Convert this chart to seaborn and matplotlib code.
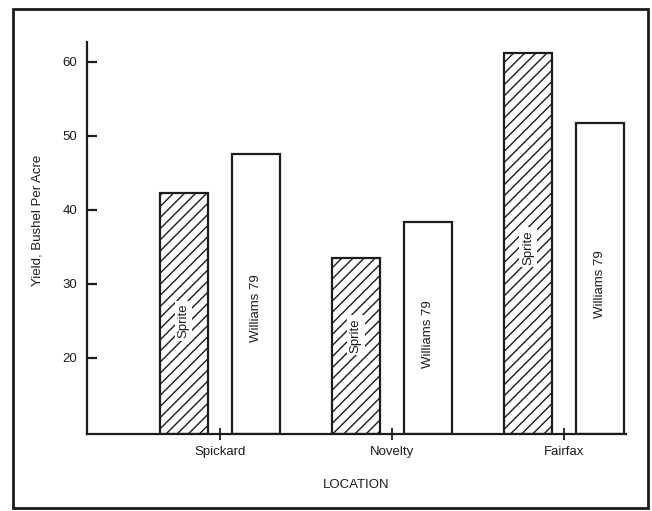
import matplotlib
matplotlib.use("Agg")
import matplotlib.pyplot as plt
import seaborn as sns
import pandas as pd
from matplotlib.patches import Rectangle

locations = ["Spickard", "Novelty", "Fairfax"]
varieties = ["Sprite", "Williams 79"]
sprite_yield = [42.3, 33.5, 61.2]
williams_yield = [47.6, 38.4, 51.8]
y_ticks = [20, 30, 40, 50, 60]
y_label = "Yield, Bushel Per Acre"
x_label = "LOCATION"

df = pd.DataFrame({
    "Location": locations * 2,
    "Variety": [varieties[0]] * 3 + [varieties[1]] * 3,
    "Yield": sprite_yield + williams_yield,
})

sns.set_theme(style="white")
plt.rcParams["font.family"] = ["Liberation Sans", "DejaVu Sans"]
plt.rcParams["hatch.linewidth"] = 1.0
plt.rcParams["hatch.color"] = "#1a1a1a"

INK = "#1c1c1c"
fig = plt.figure(figsize=(6.52, 5.11), dpi=100)
fig.patch.set_facecolor("white")
ax = fig.add_axes([87 / 652, 1 - 434 / 511, (626 - 87) / 652, (434 - 42) / 511])

ymin, ymax = 9.7, 62.7
sns.barplot(data=df, x="Location", y="Yield", hue="Variety", order=locations,
            hue_order=varieties, palette=["white", "white"], width=0.84, gap=0.33,
            edgecolor=INK, linewidth=1.6, legend=False, ax=ax)

bars = ax.patches[:len(locations) * 2]
# hatch Sprite bars and re-base bars at the axis baseline
for i, p in enumerate(bars):
    h = p.get_height()
    p.set_y(ymin)
    p.set_height(h - ymin)
    if i < len(locations):
        p.set_hatch("///")

# labels inside bars (relative vertical placement within each bar)
label_frac = [0.47, 0.56, 0.49, 0.45, 0.47, 0.48]
for i, p in enumerate(bars):
    name = varieties[0] if i < len(locations) else varieties[1]
    cx = p.get_x() + p.get_width() / 2
    cy = p.get_y() + p.get_height() * label_frac[i]
    ax.text(cx, cy, name, rotation=90, ha="center", va="center", fontsize=9.5,
            color=INK, bbox=dict(boxstyle="square,pad=0.2", fc="white", ec="none"),
            zorder=5)

ax.set_xlim(-0.773, 2.36)
ax.set_ylim(ymin, ymax)
ax.set_yticks(y_ticks)
ax.set_yticklabels([str(t) for t in y_ticks])
ax.set_xticks(range(len(locations)))
ax.set_xticklabels(locations)

for s in ["top", "right"]:
    ax.spines[s].set_visible(False)
for s in ["left", "bottom"]:
    ax.spines[s].set_color(INK)
    ax.spines[s].set_linewidth(1.6)

ax.tick_params(axis="y", direction="in", length=7, width=1.6, color=INK,
               pad=7, labelsize=9.5, labelcolor=INK, left=True)
ax.tick_params(axis="x", direction="inout", length=9, width=1.3, color=INK,
               pad=4, labelsize=9.5, labelcolor=INK, bottom=True)

ax.set_xlabel(x_label, fontsize=9.5, color=INK, labelpad=15)
ax.set_ylabel("")
fig.text(38 / 652, 1 - 220 / 511, y_label, rotation=90, ha="center", va="center",
         fontsize=9.5, color=INK)

# outer frame
fig.patches.append(Rectangle((13 / 652, 1 - 508 / 511), (648 - 13) / 652, (508 - 9) / 511,
                             transform=fig.transFigure, fill=False, ec=INK, lw=2.0))

fig.savefig("out.png", dpi=100, facecolor="white")
